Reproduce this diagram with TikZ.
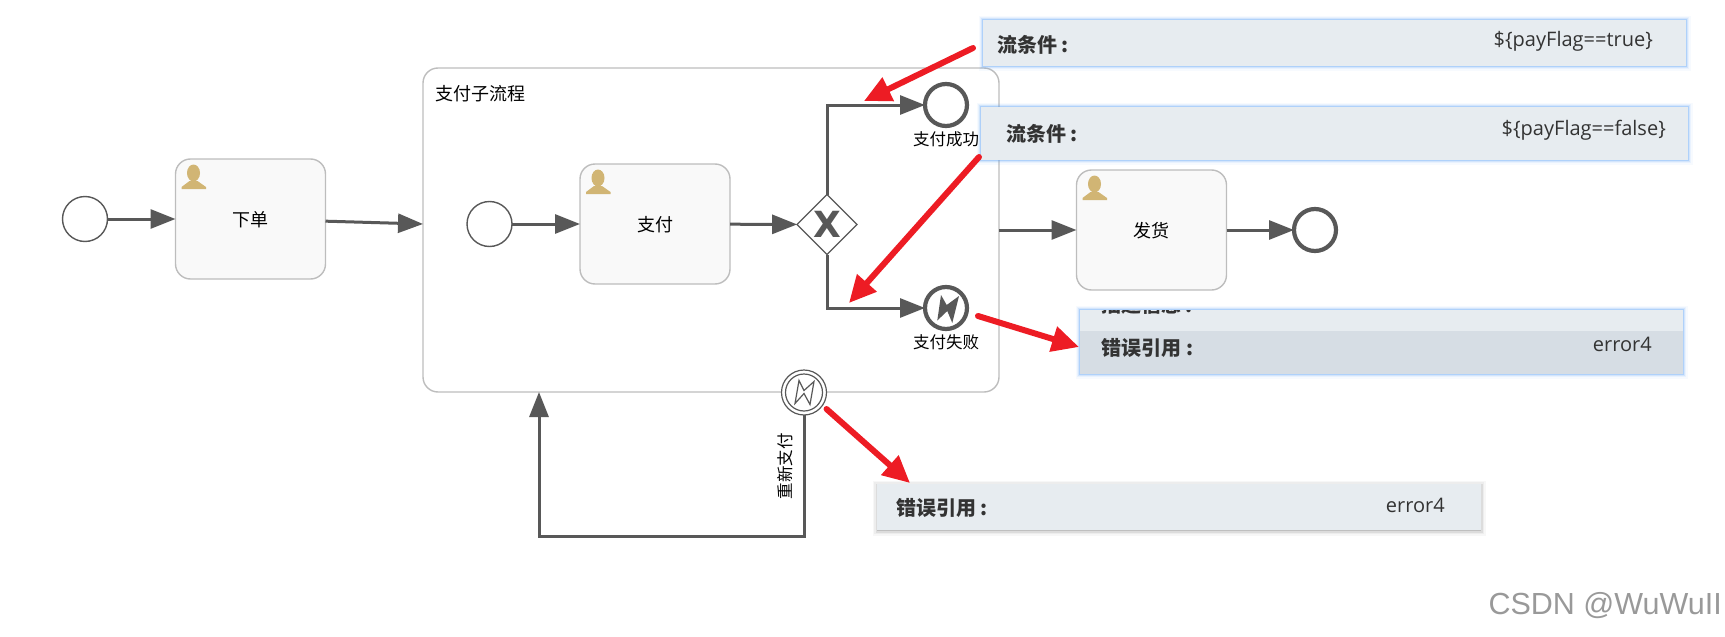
\documentclass[tikz,border=0pt]{standalone}
\usepackage{fontspec}
\setmainfont{Noto Sans CJK SC}
\newfontfamily\valfont{Open Sans}
\newfontfamily\markfont{Liberation Sans}
\newfontfamily\gatefont{DejaVu Sans}
\usepackage{tikz}
\usetikzlibrary{positioning,arrows.meta,calc,shapes.geometric}
\definecolor{bpmGray}{HTML}{585858}
\definecolor{bpmEdge}{HTML}{BDBDBD}
\definecolor{bpmFace}{HTML}{F9F9F9}
\definecolor{bpmUser}{HTML}{D1B574}
\definecolor{panelFace}{HTML}{E7ECF0}
\definecolor{panelDark}{HTML}{D6DDE4}
\definecolor{panelGlow}{HTML}{5EA2F5}
\definecolor{noteRed}{HTML}{ED1C24}
\tikzset{
  bpmStart/.style={circle, draw=bpmGray, line width=1.4pt, fill=white, minimum size=45pt,
                inner sep=0pt, outer sep=0pt},
  bpmEnd/.style={bpmStart, line width=4.2pt, minimum size=42pt},
  bpmTask/.style={rectangle, rounded corners=15pt, draw=bpmEdge, line width=1.4pt, fill=bpmFace,
                minimum width=150pt, minimum height=120pt, inner sep=0pt, outer sep=0pt,
                text depth=0pt, font=\fontsize{18}{20}\selectfont},
  bpmGate/.style={diamond, aspect=1, draw=bpmGray, line width=1.2pt, fill=white, minimum size=60pt,
                inner sep=0pt, outer sep=0pt, text=bpmGray, font=\gatefont\bfseries\fontsize{36}{36}\selectfont},
  bpmLab/.style={font=\fontsize{16.5}{18}\selectfont, inner sep=0pt},
  bpmFlow/.style={draw=bpmGray, line width=3pt, -{Triangle[length=25pt,width=19pt]}},
  redNote/.style={draw=noteRed, line width=6pt, line cap=round, -{Triangle[length=27pt,width=25pt]}},
  panelBase/.style={rectangle, fill=panelFace, inner sep=0pt, outer sep=0pt},
  glowPanel/.style={panelBase, preaction={draw=panelGlow, line width=9pt, opacity=.05},
                preaction={draw=panelGlow, line width=6.5pt, opacity=.09},
                preaction={draw=panelGlow, line width=4pt, opacity=.16},
                preaction={draw=panelGlow, line width=2pt, opacity=.3}},
  grayPanel/.style={panelBase, preaction={draw=black, fill=black, line width=9pt, opacity=.03, transform canvas={yshift=-1pt}},
                preaction={draw=black, fill=black, line width=6pt, opacity=.04, transform canvas={yshift=-1pt}},
                preaction={draw=black, fill=black, line width=3pt, opacity=.07, transform canvas={yshift=-1pt}}},
  keyLab/.style={font=\bfseries\fontsize{20}{22}\selectfont, text=black!80, inner sep=0pt},
  valLab/.style={font=\valfont\fontsize{20}{22}\selectfont, text=black!80, inner sep=0pt},
  pics/userIcon/.style={code={
    \fill[bpmUser] (18,14) ellipse (6.5 and 8.5);
    \fill[bpmUser] (6,30) -- (6,28) -- (14,22) -- (22,22) -- (30.5,28) -- (30.5,30) -- cycle;
  }},
}

\begin{document}
\begin{tikzpicture}[x=1pt,y=-1pt]
  \useasboundingbox (0,0) rectangle (1725,637);
  % outer flow
  \node[bpmStart] (evBegin) at (85,219) {};
  \node[bpmTask] (taskOrder) at (250.5,219) {下单};
  \pic at (taskOrder.north west) {userIcon};
  \node[bpmTask, fill=white, minimum width=576pt, minimum height=324pt] (subPay) at (711,230) {};
  \node[bpmLab, font=\fontsize{18}{20}\selectfont, anchor=west] (lblSub) at (435,94) {支付子流程};
  \coordinate (subIn) at (423,224);
  \coordinate (subOut) at (999,230);
  \node[bpmTask] (taskShip) at (1151.5,230) {发货};
  \pic at (taskShip.north west) {userIcon};
  \node[bpmEnd] (evFinish) at (1315,230) {};
  \draw[bpmFlow] (evBegin) -- (taskOrder);
  \draw[bpmFlow] (taskOrder) -- (subIn);
  \draw[bpmFlow] (subOut) -- (taskShip);
  \draw[bpmFlow] (taskShip) -- (evFinish);
  % inside the sub process
  \node[bpmStart] (evInner) at (489.5,224) {};
  \node[bpmTask] (taskPay) at (655,224) {支付};
  \pic at (taskPay.north west) {userIcon};
  \node[bpmGate] (gateX) at (827,224.5) {X};
  \node[bpmEnd, label={[bpmLab, name=lblOk, label distance=5pt]below:支付成功}] (evOk) at (946,105) {};
  \node[bpmEnd, label={[bpmLab, name=lblFail, label distance=5pt]below:支付失败}] (evFail) at (946,308) {};
  \fill[bpmGray] (evFail.center) ++(-5,-13) -- ++(5.7,10) -- ++(12.3,-9) -- ++(-6.7,27) -- ++(-5,-12) -- ++(-10,9.5) -- cycle;
  \draw[bpmFlow] (evInner) -- (taskPay);
  \draw[bpmFlow] (taskPay) -- (gateX);
  \draw[bpmFlow] (gateX.north) |- (evOk);
  \draw[bpmFlow] (gateX.south) |- (evFail);
  % boundary event and the way back
  \node[circle, draw=bpmGray, line width=1.2pt, fill=white, minimum size=45pt, inner sep=0pt, outer sep=0pt] (evRetry) at (804,392.5) {};
  \node[circle, draw=bpmGray, line width=1.2pt, minimum size=37pt, inner sep=0pt] (evRetryIn) at (evRetry.center) {};
  \draw[bpmGray, line width=1.2pt, line join=miter] (evRetry.center) ++(-5,-12) -- ++(5,10) -- ++(10,-9) -- ++(-4,23) -- ++(-6,-11) -- ++(-9,10) -- cycle;
  \coordinate (backCorner) at (804,536);
  \coordinate (backIn) at (539,392);
  \draw[bpmFlow] (evRetry.south) -- (backCorner) -| (backIn);
  \node[bpmLab, rotate=90] (lblRetry) at (785,466) {重新支付};
  % property panels
  \node[glowPanel, minimum width=703pt, minimum height=46pt] (panelTrue) at (1334.5,43) {};
  \node[keyLab, anchor=west] (keyTrue) at (997,45) {流条件 :};
  \node[valLab, anchor=east] (valTrue) at (1653,41) {\$\{payFlag==true\}};
  \node[glowPanel, minimum width=707pt, minimum height=53pt] (panelFalse) at (1334.5,133.5) {};
  \node[keyLab, anchor=west] (keyFalse) at (1006,134) {流条件 :};
  \node[valLab, anchor=east] (valFalse) at (1666,130) {\$\{payFlag==false\}};
  \node[glowPanel, minimum width=603pt, minimum height=64pt] (panelRef) at (1381.5,342) {};
  \fill[panelDark] (panelRef.west |- 0,331) rectangle (panelRef.south east);
  \begin{scope}
    \clip (panelRef.north west) rectangle (panelRef.east |- 0,331);
    \node[keyLab, anchor=west] (keyDesc) at (1101,305) {描述信息 :};
  \end{scope}
  \node[keyLab, anchor=west] (keyRef) at (1101.5,348) {错误引用 :};
  \node[valLab, anchor=east] (valRef) at (1652,344) {error4};
  \node[grayPanel, minimum width=604pt, minimum height=46pt] (panelRetry) at (1179,507) {};
  \node[keyLab, anchor=west] (keyRetry) at (896,508) {错误引用 :};
  \node[valLab, anchor=east] (valRetry) at (1445,505) {error4};
  % red notes
  \coordinate (tipTrue) at (864,101);
  \coordinate (tipFalse) at (849,303);
  \coordinate (tailTrue) at (973,48);
  \coordinate (tailFalse) at (979,157);
  \coordinate (tailRef) at (978,316);
  \coordinate (tailRetry) at (826.5,409);
  \coordinate (tipRetry) at (910,483);
  \coordinate (tipRef) at (1079,347);
  \draw[redNote] (tailTrue) -- (tipTrue);
  \draw[redNote] (tailFalse) -- (tipFalse);
  \draw[redNote] (tailRef) -- (tipRef);
  \draw[redNote] (tailRetry) -- (tipRetry);
  \node[font=\markfont\fontsize{30.5}{32}\selectfont, text=black!40, inner sep=0pt, anchor=east] (markText) at (1722,606) {CSDN @WuWuII};
\end{tikzpicture}
\end{document}
